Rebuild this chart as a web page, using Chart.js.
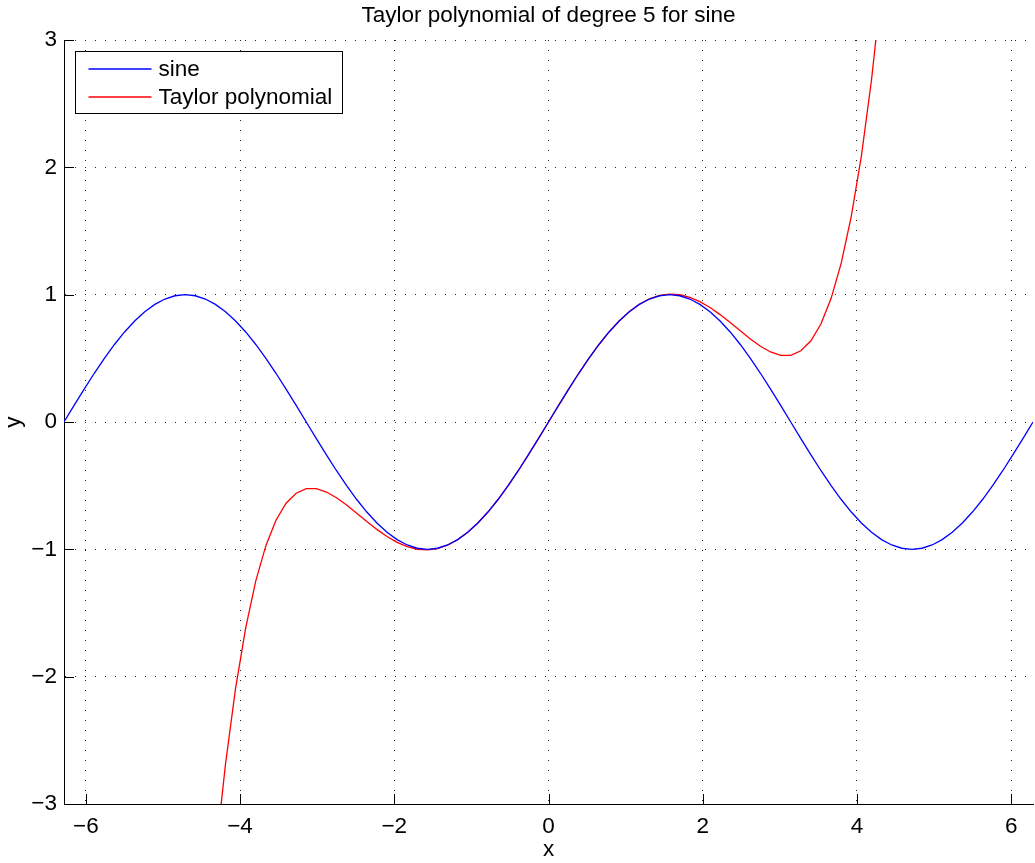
<!DOCTYPE html>
<html>
<head>
<meta charset="utf-8">
<script src="https://cdn.jsdelivr.net/npm/chart.js@4"></script>
<style>
  html, body { margin: 0; padding: 0; background: #fff; }
  canvas { display: block; }
</style>
</head>
<body>
<canvas id="c" width="1035" height="863"></canvas>
<script>
const titleText = 'Taylor polynomial of degree 5 for sine';
const xAxisTitle = 'x';
const yAxisTitle = 'y';
const seriesLabels = ['sine', 'Taylor polynomial'];
const xRange = [-6.2832, 6.2832];
const yRange = [-3, 3];
const xTicks = [-6, -4, -2, 0, 2, 4, 6];
const yTicks = [-3, -2, -1, 0, 1, 2, 3];

const xValues = [
  -6.2832, -6.1523, -6.0214, -5.8905, -5.7596, -5.6287, -5.4978, -5.3669, -5.2360, -5.1051,
  -4.9742, -4.8433, -4.7124, -4.5815, -4.4506, -4.3197, -4.1888, -4.0579, -3.9270, -3.7961,
  -3.6652, -3.5343, -3.4034, -3.2725, -3.1416, -3.0107, -2.8798, -2.7489, -2.6180, -2.4871,
  -2.3562, -2.2253, -2.0944, -1.9635, -1.8326, -1.7017, -1.5708, -1.4399, -1.3090, -1.1781,
  -1.0472, -0.9163, -0.7854, -0.6545, -0.5236, -0.3927, -0.2618, -0.1309, 0,
  0.1309, 0.2618, 0.3927, 0.5236, 0.6545, 0.7854, 0.9163, 1.0472, 1.1781, 1.3090,
  1.4399, 1.5708, 1.7017, 1.8326, 1.9635, 2.0944, 2.2253, 2.3562, 2.4871, 2.6180,
  2.7489, 2.8798, 3.0107, 3.1416, 3.2725, 3.4034, 3.5343, 3.6652, 3.7961, 3.9270,
  4.0579, 4.1888, 4.3197, 4.4506, 4.5815, 4.7124, 4.8433, 4.9742, 5.1051, 5.2360,
  5.3669, 5.4978, 5.6287, 5.7596, 5.8905, 6.0214, 6.1523, 6.2832
];

const sineValues = [
  0, 0.1305, 0.2588, 0.3827, 0.5, 0.6088, 0.7071, 0.7934, 0.8660, 0.9239,
  0.9659, 0.9914, 1, 0.9914, 0.9659, 0.9239, 0.8660, 0.7934, 0.7071, 0.6088,
  0.5, 0.3827, 0.2588, 0.1305, 0, -0.1305, -0.2588, -0.3827, -0.5, -0.6088,
  -0.7071, -0.7934, -0.8660, -0.9239, -0.9659, -0.9914, -1, -0.9914, -0.9659, -0.9239,
  -0.8660, -0.7934, -0.7071, -0.6088, -0.5, -0.3827, -0.2588, -0.1305, 0,
  0.1305, 0.2588, 0.3827, 0.5, 0.6088, 0.7071, 0.7934, 0.8660, 0.9239, 0.9659,
  0.9914, 1, 0.9914, 0.9659, 0.9239, 0.8660, 0.7934, 0.7071, 0.6088, 0.5,
  0.3827, 0.2588, 0.1305, 0, -0.1305, -0.2588, -0.3827, -0.5, -0.6088, -0.7071,
  -0.7934, -0.8660, -0.9239, -0.9659, -0.9914, -1, -0.9914, -0.9659, -0.9239, -0.8660,
  -0.7934, -0.7071, -0.6088, -0.5, -0.3827, -0.2588, -0.1305, 0
];

const taylorValues = [
  -46.547, -40.792, -35.598, -30.924, -26.733, -22.989, -19.658, -16.708, -14.107, -11.826,
  -9.837, -8.1166, -6.6366, -5.3749, -4.3094, -3.4194, -2.6857, -2.0903, -1.6163, -1.2480,
  -0.9710, -0.7718, -0.6383, -0.5591, -0.5240, -0.5237, -0.5499, -0.5949, -0.6523, -0.7161,
  -0.7812, -0.8434, -0.8990, -0.9450, -0.9791, -0.9993, -1.0045, -0.9939, -0.9672, -0.9245,
  -0.8663, -0.7935, -0.7071, -0.6088, -0.5000, -0.3827, -0.2588, -0.1305, 0,
  0.1305, 0.2588, 0.3827, 0.5000, 0.6088, 0.7071, 0.7935, 0.8663, 0.9245, 0.9672,
  0.9939, 1.0045, 0.9993, 0.9791, 0.9450, 0.8990, 0.8434, 0.7812, 0.7161, 0.6523,
  0.5949, 0.5499, 0.5237, 0.5240, 0.5591, 0.6383, 0.7718, 0.9710, 1.2480, 1.6163,
  2.0903, 2.6857, 3.4194, 4.3094, 5.3749, 6.6366, 8.1166, 9.837, 11.826, 14.107,
  16.708, 19.658, 22.989, 26.733, 30.924, 35.598, 40.792, 46.547
];

const FONT = '"Liberation Sans", Arial, Helvetica, sans-serif';
const FS = 22.5;
const fmt = v => (v < 0 ? '\u2212' + Math.abs(v) : String(v));

// Inward tick marks (MATLAB style)
const inwardTicks = {
  id: 'inwardTicks',
  afterDatasetsDraw(chart) {
    const { ctx, chartArea: ca, scales } = chart;
    ctx.save();
    ctx.strokeStyle = '#000';
    ctx.lineWidth = 1;
    ctx.beginPath();
    scales.x.ticks.forEach(t => {
      const px = Math.round(scales.x.getPixelForValue(t.value)) + 0.5;
      ctx.moveTo(px, ca.bottom);
      ctx.lineTo(px, ca.bottom - 10);
    });
    scales.y.ticks.forEach(t => {
      const py = Math.round(scales.y.getPixelForValue(t.value)) + 0.5;
      ctx.moveTo(ca.left, py);
      ctx.lineTo(ca.left + 10, py);
    });
    ctx.stroke();
    ctx.restore();
  }
};

// Boxed legend inside the axes, top-left
const boxLegend = {
  id: 'boxLegend',
  afterDraw(chart) {
    const { ctx, chartArea: ca } = chart;
    const ds = chart.data.datasets;
    ctx.save();
    ctx.font = FS + 'px ' + FONT;
    const maxW = Math.max(...ds.map(d => ctx.measureText(d.label).width));
    const bx = Math.round(ca.left + 11) + 0.5;
    const by = Math.round(ca.top + 11) + 0.5;
    const textX = bx + 83;
    const bw = Math.round(83 + maxW + 10);
    const bh = 62;
    ctx.fillStyle = '#fff';
    ctx.fillRect(bx, by, bw, bh);
    ctx.strokeStyle = '#000';
    ctx.lineWidth = 1;
    ctx.strokeRect(bx, by, bw, bh);
    const rows = [by + 17.5, by + 45.5];
    ds.forEach((d, i) => {
      const y = Math.round(rows[i]);
      ctx.strokeStyle = d.borderColor;
      ctx.lineWidth = 1.3;
      ctx.beginPath();
      ctx.moveTo(bx + 13, y);
      ctx.lineTo(bx + 76, y);
      ctx.stroke();
      ctx.fillStyle = '#000';
      ctx.textBaseline = 'middle';
      ctx.textAlign = 'left';
      ctx.fillText(d.label, textX, y + 1);
    });
    ctx.restore();
  }
};

const toPoints = ys => xValues.map((x, i) => ({ x: x, y: ys[i] }));

new Chart(document.getElementById('c'), {
  type: 'line',
  data: {
    datasets: [
      {
        label: seriesLabels[0],
        data: toPoints(sineValues),
        borderColor: '#0000ff',
        borderWidth: 1.3,
        pointRadius: 0,
        tension: 0,
        fill: false
      },
      {
        label: seriesLabels[1],
        data: toPoints(taylorValues),
        borderColor: '#ff0000',
        borderWidth: 1.3,
        pointRadius: 0,
        tension: 0,
        fill: false
      }
    ]
  },
  options: {
    responsive: false,
    animation: false,
    devicePixelRatio: 1,
    layout: { padding: { top: 0, right: 2, bottom: 0, left: 0 } },
    plugins: {
      legend: { display: false },
      tooltip: { enabled: false },
      title: {
        display: true,
        fullSize: false,
        text: titleText,
        color: '#000',
        font: { family: FONT, size: FS, weight: 'normal', lineHeight: 1.2 },
        padding: { top: 2, bottom: 11 }
      }
    },
    scales: {
      x: {
        type: 'linear',
        min: xRange[0],
        max: xRange[1],
        afterBuildTicks: s => { s.ticks = xTicks.map(v => ({ value: v })); },
        afterFit: s => { s.height = 59; },
        ticks: {
          color: '#000',
          padding: 9,
          maxRotation: 0,
          autoSkip: false,
          font: { family: FONT, size: FS },
          callback: v => fmt(v)
        },
        grid: { color: '#222', lineWidth: 1, drawTicks: false },
        border: { display: true, color: '#000', width: 1, dash: [1, 9] },
        title: {
          display: true,
          text: xAxisTitle,
          color: '#000',
          font: { family: FONT, size: FS },
          padding: { top: 0, bottom: 0 }
        }
      },
      y: {
        type: 'linear',
        min: yRange[0],
        max: yRange[1],
        afterBuildTicks: s => { s.ticks = yTicks.map(v => ({ value: v })); },
        afterFit: s => { s.width = 64; },
        ticks: {
          color: '#000',
          padding: 7,
          autoSkip: false,
          font: { family: FONT, size: FS },
          callback: v => fmt(v)
        },
        grid: { color: '#222', lineWidth: 1, drawTicks: false },
        border: { display: true, color: '#000', width: 1, dash: [1, 9] },
        title: {
          display: true,
          text: yAxisTitle,
          color: '#000',
          font: { family: FONT, size: FS },
          padding: { top: 0, bottom: 0 }
        }
      }
    }
  },
  plugins: [inwardTicks, boxLegend]
});
</script>
</body>
</html>
